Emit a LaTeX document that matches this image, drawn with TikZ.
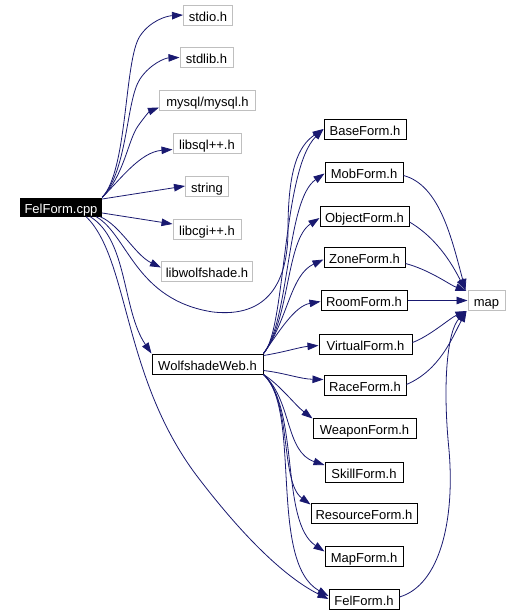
\documentclass[tikz,border=0pt]{standalone}
\usepackage{fontspec}
\setmainfont{Liberation Sans}
\usetikzlibrary{arrows.meta,calc}
\definecolor{edgeblue}{HTML}{191970}
\definecolor{sysgray}{HTML}{BFBFBF}
\begin{document}
\begin{tikzpicture}[x=1pt,y=-1pt,
  every node/.style={inner sep=0pt,text height=12.5pt,text depth=0pt,font=\fontsize{13}{15}\selectfont},
  hdr/.style={draw=black,line width=1pt,fill=white,minimum height=20pt},
  sys/.style={draw=sysgray,line width=1pt,fill=white,minimum height=20pt},
  root/.style={fill=black,text=white,minimum height=19pt},
  dep/.style={draw=edgeblue,line width=0.8pt,-{Triangle[length=11pt,width=7.5pt]}}]
\useasboundingbox (0,0) rectangle (521,614);
% nodes
\node[root,minimum width=82pt] (cpp) at (61,207) {FelForm.cpp};
\node[sys,minimum width=49pt] (stdio) at (208,15) {stdio.h};
\node[sys,minimum width=53pt] (stdlib) at (206.5,57.5) {stdlib.h};
\node[sys,minimum width=96pt] (mysql) at (207.5,100) {mysql/mysql.h};
\node[sys,minimum width=68pt] (libsql) at (207,143) {libsql++.h};
\node[sys,minimum width=43pt] (string) at (207,186) {string};
\node[sys,minimum width=68pt] (libcgi) at (207,229) {libcgi++.h};
\node[sys,minimum width=91pt] (libwolf) at (207,271.5) {libwolfshade.h};
\node[hdr,minimum width=111pt] (web) at (207.5,364) {WolfshadeWeb.h};
\node[hdr,minimum width=82pt] (base) at (365,129) {BaseForm.h};
\node[hdr,minimum width=78pt] (mob) at (364,172.5) {MobForm.h};
\node[hdr,minimum width=89pt] (object) at (364.5,216) {ObjectForm.h};
\node[hdr,minimum width=81pt] (zone) at (364.5,257.5) {ZoneForm.h};
\node[hdr,minimum width=86pt] (room) at (364,300.5) {RoomForm.h};
\node[hdr,minimum width=93pt] (virtual) at (365.5,344.5) {VirtualForm.h};
\node[hdr,minimum width=82pt] (race) at (365,385.5) {RaceForm.h};
\node[hdr,minimum width=103pt] (weapon) at (364.5,428) {WeaponForm.h};
\node[hdr,minimum width=78pt] (skill) at (364,472) {SkillForm.h};
\node[hdr,minimum width=106pt] (resource) at (364,513) {ResourceForm.h};
\node[hdr,minimum width=78pt] (mapform) at (364,556.5) {MapForm.h};
\node[hdr,minimum width=70pt] (felh) at (364,599) {FelForm.h};
\node[sys,minimum width=37pt] (map) at (486.5,300.5) {map};
% FelForm.cpp edges
\draw[dep] (cpp.north east) .. controls (128,170) and (124,60) .. (140,36) .. controls (150,21) and (166,16) .. (stdio.west);
\draw[dep] (cpp.north east) .. controls (128,170) and (126,100) .. (140,79) .. controls (150,64) and (165,58) .. (stdlib.west);
\draw[dep] (cpp.north east) .. controls (124,176) and (128,140) .. (138,126) .. controls (145,116) and (150,111) .. ($(mysql.south west)+(0,-3)$);
\draw[dep] (cpp.north east) .. controls (120,180) and (140,152) .. ($(libsql.south west)+(0,-4)$);
\draw[dep] ($(cpp.east)+(0,-8)$) -- (string.west);
\draw[dep] ($(cpp.east)+(0,6)$) -- ($(libcgi.west)+(0,-5)$);
\draw[dep] ($(cpp.south east)+(-2,0)$) .. controls (120,225) and (135,255) .. ($(libwolf.west)+(0,-4)$);
\draw[dep] ($(cpp.south east)+(-6,0)$) .. controls (128,235) and (135,300) .. (213,312) .. controls (268,318) and (288,282) .. (288,230) .. controls (288,170) and (298,146) .. (base.west);
\draw[dep] ($(cpp.south east)+(-12,0)$) .. controls (128,240) and (122,310) .. (web.north west);
\draw[dep] ($(cpp.south east)+(-16,0)$) .. controls (130,260) and (122,380) .. (200,480) .. controls (250,545) and (290,580) .. (felh.west);
% WolfshadeWeb edges
\draw[dep] (web.north east) .. controls (286,330) and (282,170) .. (base.west);
\draw[dep] (web.north east) .. controls (290,320) and (286,200) .. ($(mob.west)+(0,1)$);
\draw[dep] (web.north east) .. controls (290,320) and (286,240) .. ($(object.west)+(0,2)$);
\draw[dep] (web.north east) .. controls (288,320) and (290,275) .. ($(zone.west)+(0,2)$);
\draw[dep] (web.north east) .. controls (280,330) and (295,306) .. ($(room.west)+(0,1)$);
\draw[dep] ($(web.north east)+(0,2)$) .. controls (285,352) and (300,347) .. ($(virtual.west)+(0,1)$);
\draw[dep] ($(web.south east)+(0,-4)$) .. controls (285,373) and (300,379) .. ($(race.west)+(0,-6)$);
\draw[dep] (web.south east) .. controls (280,385) and (295,405) .. ($(weapon.north west)+(0,1)$);
\draw[dep] (web.south east) .. controls (292,400) and (285,452) .. ($(skill.west)+(0,-7)$);
\draw[dep] (web.south east) .. controls (292,400) and (280,482) .. ($(resource.north west)+(0,2)$);
\draw[dep] (web.south east) .. controls (300,410) and (280,522) .. ($(mapform.west)+(0,-5)$);
\draw[dep] (web.south east) .. controls (302,410) and (268,562) .. ($(felh.west)+(0,-3)$);
% edges to map
\draw[dep] ($(mob.east)+(0,3)$) .. controls (440,185) and (452,240) .. ($(map.north west)+(-2,0)$);
\draw[dep] ($(object.east)+(0,6)$) .. controls (440,240) and (455,270) .. ($(map.north west)+(-2,0)$);
\draw[dep] ($(zone.east)+(0,6)$) .. controls (430,270) and (450,285) .. ($(map.north west)+(-1,1)$);
\draw[dep] (room.east) -- (map.west);
\draw[dep] ($(virtual.east)+(0,-2)$) .. controls (430,336) and (450,318) .. ($(map.south west)+(-1,0)$);
\draw[dep] ($(race.east)+(0,-1)$) .. controls (440,370) and (452,338) .. ($(map.south west)+(-1,0)$);
\draw[dep] ($(felh.east)+(0,-2)$) .. controls (440,585) and (455,520) .. (449,450) .. controls (442,380) and (448,330) .. ($(map.south west)+(-1,0)$);
\end{tikzpicture}
\end{document}
